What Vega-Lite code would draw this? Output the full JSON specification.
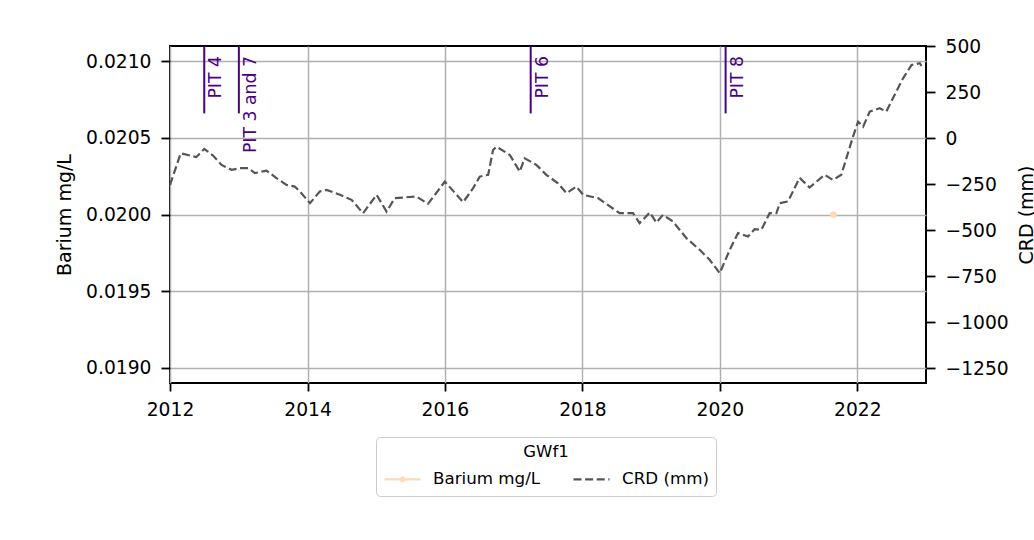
{
  "$schema": "https://vega.github.io/schema/vega-lite/v6.json",
  "width": 756,
  "height": 337,
  "autosize": {"type": "none"},
  "padding": {"left": 170, "top": 46, "right": 108, "bottom": 157},
  "background": "white",
  "config": {
    "font": "DejaVu Sans",
    "view": {"stroke": "black", "strokeWidth": 2},
    "axis": {
      "labelFont": "DejaVu Sans", "titleFont": "DejaVu Sans",
      "labelFontSize": 18.7, "titleFontSize": 19, "titleFontWeight": "normal",
      "labelColor": "black", "titleColor": "black",
      "tickColor": "black", "tickWidth": 1.8, "tickSize": 8, "labelPadding": 8,
      "domain": false, "gridColor": "#b0b0b0", "gridWidth": 1.5, "gridOpacity": 1
    },
    "axisY": {"tickSize": 9, "labelPadding": 10},
    "legend": {
      "labelFont": "DejaVu Sans", "titleFont": "DejaVu Sans",
      "labelFontSize": 16.7, "titleFontSize": 16.5, "titleFontWeight": "normal",
      "labelColor": "black", "titleColor": "black",
      "strokeColor": "#cccccc", "fillColor": "white", "padding": 7, "cornerRadius": 4,
      "symbolStrokeWidth": 2.2, "symbolSize": 400, "columnPadding": 28, "labelOffset": 27,
      "titlePadding": 7
    }
  },
  "datasets": {
    "crd": [
      {"date": "2012-01-01", "value": -254, "series": "CRD (mm)"},
      {"date": "2012-02-27", "value": -82, "series": "CRD (mm)"},
      {"date": "2012-05-20", "value": -103, "series": "CRD (mm)"},
      {"date": "2012-07-01", "value": -58, "series": "CRD (mm)"},
      {"date": "2012-08-18", "value": -96, "series": "CRD (mm)"},
      {"date": "2012-10-01", "value": -145, "series": "CRD (mm)"},
      {"date": "2012-11-23", "value": -172, "series": "CRD (mm)"},
      {"date": "2013-01-07", "value": -163, "series": "CRD (mm)"},
      {"date": "2013-02-20", "value": -163, "series": "CRD (mm)"},
      {"date": "2013-03-27", "value": -190, "series": "CRD (mm)"},
      {"date": "2013-05-28", "value": -176, "series": "CRD (mm)"},
      {"date": "2013-07-20", "value": -217, "series": "CRD (mm)"},
      {"date": "2013-09-11", "value": -254, "series": "CRD (mm)"},
      {"date": "2013-10-25", "value": -263, "series": "CRD (mm)"},
      {"date": "2013-11-21", "value": -290, "series": "CRD (mm)"},
      {"date": "2014-01-14", "value": -353, "series": "CRD (mm)"},
      {"date": "2014-03-07", "value": -290, "series": "CRD (mm)"},
      {"date": "2014-04-12", "value": -281, "series": "CRD (mm)"},
      {"date": "2014-06-22", "value": -308, "series": "CRD (mm)"},
      {"date": "2014-08-23", "value": -335, "series": "CRD (mm)"},
      {"date": "2014-10-23", "value": -408, "series": "CRD (mm)"},
      {"date": "2015-01-03", "value": -308, "series": "CRD (mm)"},
      {"date": "2015-02-25", "value": -399, "series": "CRD (mm)"},
      {"date": "2015-04-10", "value": -326, "series": "CRD (mm)"},
      {"date": "2015-08-03", "value": -317, "series": "CRD (mm)"},
      {"date": "2015-10-03", "value": -357, "series": "CRD (mm)"},
      {"date": "2016-01-01", "value": -236, "series": "CRD (mm)"},
      {"date": "2016-04-07", "value": -348, "series": "CRD (mm)"},
      {"date": "2016-05-30", "value": -272, "series": "CRD (mm)"},
      {"date": "2016-07-04", "value": -209, "series": "CRD (mm)"},
      {"date": "2016-08-18", "value": -199, "series": "CRD (mm)"},
      {"date": "2016-09-13", "value": -64, "series": "CRD (mm)"},
      {"date": "2016-10-01", "value": -46, "series": "CRD (mm)"},
      {"date": "2016-12-11", "value": -91, "series": "CRD (mm)"},
      {"date": "2017-02-02", "value": -182, "series": "CRD (mm)"},
      {"date": "2017-02-28", "value": -109, "series": "CRD (mm)"},
      {"date": "2017-05-01", "value": -145, "series": "CRD (mm)"},
      {"date": "2017-06-23", "value": -199, "series": "CRD (mm)"},
      {"date": "2017-08-24", "value": -245, "series": "CRD (mm)"},
      {"date": "2017-10-08", "value": -299, "series": "CRD (mm)"},
      {"date": "2017-11-30", "value": -263, "series": "CRD (mm)"},
      {"date": "2018-01-05", "value": -308, "series": "CRD (mm)"},
      {"date": "2018-03-25", "value": -326, "series": "CRD (mm)"},
      {"date": "2018-07-18", "value": -408, "series": "CRD (mm)"},
      {"date": "2018-09-27", "value": -408, "series": "CRD (mm)"},
      {"date": "2018-11-01", "value": -462, "series": "CRD (mm)"},
      {"date": "2018-12-25", "value": -404, "series": "CRD (mm)"},
      {"date": "2019-01-29", "value": -459, "series": "CRD (mm)"},
      {"date": "2019-03-05", "value": -417, "series": "CRD (mm)"},
      {"date": "2019-04-27", "value": -453, "series": "CRD (mm)"},
      {"date": "2019-07-07", "value": -543, "series": "CRD (mm)"},
      {"date": "2019-09-16", "value": -607, "series": "CRD (mm)"},
      {"date": "2019-11-08", "value": -661, "series": "CRD (mm)"},
      {"date": "2020-01-01", "value": -734, "series": "CRD (mm)"},
      {"date": "2020-02-23", "value": -607, "series": "CRD (mm)"},
      {"date": "2020-04-07", "value": -516, "series": "CRD (mm)"},
      {"date": "2020-05-30", "value": -535, "series": "CRD (mm)"},
      {"date": "2020-07-04", "value": -495, "series": "CRD (mm)"},
      {"date": "2020-08-09", "value": -498, "series": "CRD (mm)"},
      {"date": "2020-09-22", "value": -408, "series": "CRD (mm)"},
      {"date": "2020-10-28", "value": -408, "series": "CRD (mm)"},
      {"date": "2020-11-15", "value": -353, "series": "CRD (mm)"},
      {"date": "2020-12-29", "value": -344, "series": "CRD (mm)"},
      {"date": "2021-02-28", "value": -215, "series": "CRD (mm)"},
      {"date": "2021-04-22", "value": -268, "series": "CRD (mm)"},
      {"date": "2021-07-11", "value": -199, "series": "CRD (mm)"},
      {"date": "2021-08-24", "value": -227, "series": "CRD (mm)"},
      {"date": "2021-10-08", "value": -199, "series": "CRD (mm)"},
      {"date": "2021-12-09", "value": 9, "series": "CRD (mm)"},
      {"date": "2022-01-05", "value": 90, "series": "CRD (mm)"},
      {"date": "2022-02-01", "value": 63, "series": "CRD (mm)"},
      {"date": "2022-03-08", "value": 145, "series": "CRD (mm)"},
      {"date": "2022-04-30", "value": 163, "series": "CRD (mm)"},
      {"date": "2022-06-04", "value": 145, "series": "CRD (mm)"},
      {"date": "2022-07-09", "value": 217, "series": "CRD (mm)"},
      {"date": "2022-09-01", "value": 326, "series": "CRD (mm)"},
      {"date": "2022-10-16", "value": 398, "series": "CRD (mm)"},
      {"date": "2022-11-29", "value": 408, "series": "CRD (mm)"},
      {"date": "2022-12-08", "value": 393, "series": "CRD (mm)"}
    ],
    "barium": [
      {"date": "2021-08-27", "value": 0.0200, "series": "Barium mg/L"}
    ],
    "pits": [
      {"date": "2012-07-01", "label": "PIT 4"},
      {"date": "2013-01-01", "label": "PIT 3 and 7"},
      {"date": "2017-04-01", "label": "PIT 6"},
      {"date": "2020-02-01", "label": "PIT 8"}
    ]
  },
  "encoding": {
    "x": {
      "field": "date", "type": "temporal",
      "scale": {"domain": [{"year": 2012, "month": 1, "date": 1}, {"year": 2023, "month": 1, "date": 1}]},
      "axis": {"title": null, "format": "%Y", "tickCount": {"interval": "year", "step": 2}, "grid": true, "labelFlush": false, "labelPadding": 9}
    }
  },
  "layer": [
    {
      "data": {"name": "barium"},
      "mark": {"type": "line", "strokeWidth": 2.2, "point": {"filled": true, "size": 45, "opacity": 1}},
      "encoding": {
        "y": {
          "field": "value", "type": "quantitative",
          "scale": {"domain": [0.0189, 0.0211], "nice": false, "zero": false},
          "axis": {"title": "Barium mg/L", "orient": "left", "values": [0.019, 0.0195, 0.02, 0.0205, 0.021], "format": ".4f", "grid": true, "titlePadding": 11}
        },
        "color": {
          "field": "series", "type": "nominal", "title": "GWf1",
          "scale": {"domain": ["Barium mg/L", "CRD (mm)"], "range": ["#ffdab9", "#555555"]},
          "legend": {
            "orient": "none", "legendX": 206, "legendY": 391, "direction": "horizontal",
            "titleAnchor": "middle", "titleOrient": "top",
            "encode": {"symbols": {"update": {
              "shape": {"signal": "datum.value === 'Barium mg/L' ? 'M-1,0H2.6M0.62,0a0.18,0.18 0 1,0 0.36,0a0.18,0.18 0 1,0 -0.36,0' : 'M-1,0H2.6'"},
              "fill": {"signal": "datum.value === 'Barium mg/L' ? '#ffdab9' : 'transparent'"}
            }}}
          }
        },
        "strokeDash": {
          "field": "series", "type": "nominal", "title": "GWf1",
          "scale": {"domain": ["Barium mg/L", "CRD (mm)"], "range": [[1, 0], [8, 3.6]]},
          "legend": {"orient": "none", "legendX": 206, "legendY": 391, "direction": "horizontal", "titleAnchor": "middle", "titleOrient": "top"}
        }
      }
    },
    {
      "data": {"name": "pits"},
      "mark": {"type": "rule", "color": "#4b0082", "strokeWidth": 2},
      "encoding": {
        "y": {"datum": 0.02066, "type": "quantitative", "scale": {"domain": [0.0189, 0.0211], "nice": false, "zero": false}, "axis": null},
        "y2": {"datum": 0.0211}
      }
    },
    {
      "data": {"name": "pits"},
      "mark": {"type": "text", "angle": 270, "align": "right", "baseline": "top", "dx": -10, "dy": 3, "fontSize": 17.3, "font": "DejaVu Sans", "color": "#4b0082"},
      "encoding": {
        "y": {"datum": 0.0211, "type": "quantitative", "scale": {"domain": [0.0189, 0.0211], "nice": false, "zero": false}, "axis": null},
        "text": {"field": "label"}
      }
    },
    {
      "data": {"name": "crd"},
      "mark": {"type": "line", "strokeWidth": 2.2, "clip": true},
      "encoding": {
        "y": {
          "field": "value", "type": "quantitative",
          "scale": {"domain": [-1331.5, 501.6], "nice": false, "zero": false},
          "axis": {"title": "CRD (mm)", "orient": "right", "values": [-1250, -1000, -750, -500, -250, 0, 250, 500], "format": "d", "grid": false, "titleAngle": 270, "titlePadding": 28}
        },
        "color": {
          "field": "series", "type": "nominal", "title": "GWf1",
          "scale": {"domain": ["Barium mg/L", "CRD (mm)"], "range": ["#ffdab9", "#555555"]},
          "legend": {
            "orient": "none", "legendX": 206, "legendY": 391, "direction": "horizontal",
            "titleAnchor": "middle", "titleOrient": "top",
            "encode": {"symbols": {"update": {
              "shape": {"signal": "datum.value === 'Barium mg/L' ? 'M-1,0H2.6M0.62,0a0.18,0.18 0 1,0 0.36,0a0.18,0.18 0 1,0 -0.36,0' : 'M-1,0H2.6'"},
              "fill": {"signal": "datum.value === 'Barium mg/L' ? '#ffdab9' : 'transparent'"}
            }}}
          }
        },
        "strokeDash": {
          "field": "series", "type": "nominal", "title": "GWf1",
          "scale": {"domain": ["Barium mg/L", "CRD (mm)"], "range": [[1, 0], [8, 3.6]]},
          "legend": {"orient": "none", "legendX": 206, "legendY": 391, "direction": "horizontal", "titleAnchor": "middle", "titleOrient": "top"}
        }
      }
    }
  ],
  "resolve": {"scale": {"y": "independent"}}
}
